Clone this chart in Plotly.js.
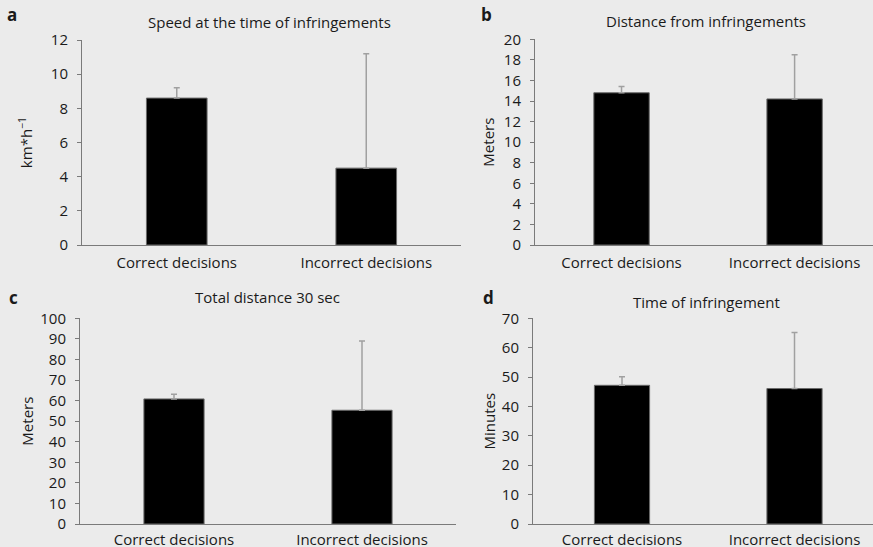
<!DOCTYPE html>
<html>
<head>
<meta charset="utf-8">
<script src="https://cdn.plot.ly/plotly-3.0.1.min.js"></script>
<style>html,body{margin:0;padding:0;background:#ebebeb;}</style>
</head>
<body>
<div id="chart" style="width:873px;height:547px;"></div>
<script>
const categories = ["Correct decisions", "Incorrect decisions"];
const speedMeans = [8.6, 4.5];
const speedErr = [0.6, 6.7];
const distFromMeans = [14.8, 14.2];
const distFromErr = [0.6, 4.3];
const totalDistMeans = [60.8, 55.3];
const totalDistErr = [2.3, 33.7];
const timeMeans = [47.2, 46.1];
const timeErr = [2.9, 19.1];
const panelLetters = ["a", "b", "c", "d"];
const panelTitles = ["Speed at the time of infringements", "Distance from infringements", "Total distance 30 sec", "Time of infringement"];
const yTitles = ["km*h<sup>−1</sup>", "Meters", "Meters", "Minutes"];

const W = 873, H = 547;
const FONT = "Open Sans, sans-serif";
const TXT = "#1a1a1a";

function mkTrace(means, errs, ax) {
  return {
    type: "bar",
    x: [0, 1],
    y: means,
    width: 0.32,
    xaxis: "x" + ax, yaxis: "y" + ax,
    marker: {color: "#000", line: {color: "#6a6a6a", width: 1}},
    error_y: {type: "data", array: errs, arrayminus: [0, 0], symmetric: false,
              color: "#a0a0a0", thickness: 1.5, width: 3},
    hoverinfo: "none", showlegend: false
  };
}
const data = [
  mkTrace(speedMeans, speedErr, ""),
  mkTrace(distFromMeans, distFromErr, "2"),
  mkTrace(totalDistMeans, totalDistErr, "3"),
  mkTrace(timeMeans, timeErr, "4")
];

function xa(x0, x1, r, so) {
  return {domain: [x0 / W, x1 / W], range: r, tickmode: "array", tickvals: [0, 1], ticktext: categories,
          showline: true, linecolor: "#7a7a7a", linewidth: 1, ticks: "", showgrid: false, zeroline: false,
          ticklabelstandoff: so,
          tickfont: {family: FONT, size: 15, color: TXT}, fixedrange: true};
}
function ya(ytop, ybot, r, dt, title, standoff) {
  return {domain: [1 - ybot / H, 1 - ytop / H], range: r, dtick: dt, tick0: 0,
          showline: true, linecolor: "#7a7a7a", linewidth: 1, ticks: "outside", ticklen: 4, tickcolor: "#7a7a7a",
          ticklabelstandoff: 6,
          showgrid: false, zeroline: false, tickfont: {family: FONT, size: 15, color: TXT},
          title: {text: title, font: {family: FONT, size: 15, color: TXT}, standoff: standoff}, fixedrange: true};
}

const layout = {
  width: W, height: H,
  paper_bgcolor: "#ebebeb", plot_bgcolor: "#ebebeb",
  margin: {l: 0, r: 0, t: 0, b: 0},
  xaxis: xa(82, 461, [-0.5, 1.5], 4),
  yaxis: ya(40, 245, [0, 12], 2, yTitles[0], 14),
  xaxis2: xa(535, 873, [-0.5, 1.453], 4),
  yaxis2: ya(39.3, 245, [0, 20], 2, yTitles[1], 5),
  xaxis3: xa(80, 456, [-0.5, 1.5], 2),
  yaxis3: ya(318.3, 524, [0, 100], 10, yTitles[2], 3),
  xaxis4: xa(533, 873, [-0.516, 1.455], 2),
  yaxis4: ya(318.3, 524, [0, 70], 10, yTitles[3], 2),
  annotations: []
};
layout.xaxis2.anchor = "y2"; layout.yaxis2.anchor = "x2";
layout.xaxis3.anchor = "y3"; layout.yaxis3.anchor = "x3";
layout.xaxis4.anchor = "y4"; layout.yaxis4.anchor = "x4";

const letterPos = [[12, 14], [486, 14], [13, 298], [488, 298]];
const titlePos = [[269, 22], [706, 21], [267, 297], [706, 302]];
for (let i = 0; i < 4; i++) {
  layout.annotations.push({xref: "paper", yref: "paper", x: letterPos[i][0] / W, y: 1 - letterPos[i][1] / H,
    text: "<b>" + panelLetters[i] + "</b>", showarrow: false, xanchor: "center", yanchor: "middle",
    font: {family: FONT, size: 17, color: TXT}});
  layout.annotations.push({xref: "paper", yref: "paper", x: titlePos[i][0] / W, y: 1 - titlePos[i][1] / H,
    text: panelTitles[i], showarrow: false, xanchor: "center", yanchor: "middle",
    font: {family: FONT, size: 15, color: TXT}});
}

Plotly.newPlot("chart", data, layout, {displayModeBar: false, staticPlot: true});
</script>
</body>
</html>
